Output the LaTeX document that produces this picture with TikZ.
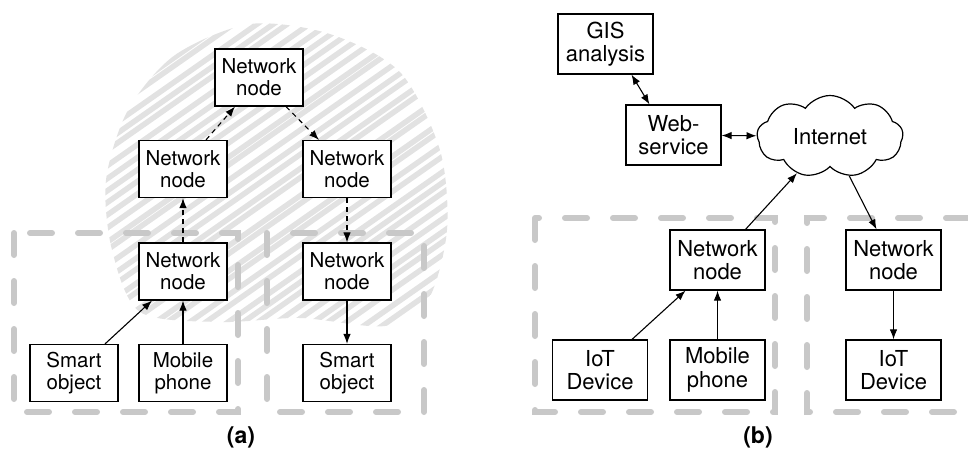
\documentclass[tikz,border=0pt]{standalone}
\usepackage{fontspec}
\setmainfont{TeX Gyre Heros}
\usetikzlibrary{arrows.meta,shapes.symbols}
\definecolor{scribble}{RGB}{226,226,226}
\definecolor{zonegray}{RGB}{200,200,200}

\begin{document}
\begin{tikzpicture}[x=1pt,y=-1pt,
  nbox/.style={draw,fill=white,line width=1.2pt,align=center,inner sep=0pt,
    minimum width=88pt,minimum height=57pt,font=\fontsize{20.5}{22}\selectfont},
  bbox/.style={nbox,minimum width=95pt,minimum height=60pt,font=\fontsize{22}{23.5}\selectfont},
  link/.style={line width=1.1pt,-{Latex[length=10pt,width=7.5pt]}},
  both/.style={line width=1.1pt,{Latex[length=10pt,width=7.5pt]}-{Latex[length=10pt,width=7.5pt]}},
  relay/.style={link,dash pattern=on 5pt off 4pt},
  zone/.style={zonegray,line width=6pt,line cap=round,dash pattern=on 22pt off 26pt},
  hatch/.style={scribble,line width=5.5pt,line cap=round},
  tag/.style={font=\fontsize{23}{26}\selectfont\bfseries}]
  \useasboundingbox (0,0) rectangle (968,459);

  % (a) shaded mesh area, loose strokes
  \pgfmathsetseed{7}
  \begin{scope}
    \clip plot[smooth cycle] coordinates {(175,55) (250,24) (330,34) (400,72) (440,150)
      (447,230) (428,300) (385,326) (300,318) (220,322) (140,312) (112,250) (106,180) (128,110)};
    \foreach \k in {-360,-342,...,460}{
      \pgfmathsetmacro\jit{rand*5}
      \draw[hatch] (\k+\jit,340) -- ++(460,-322);
    }
  \end{scope}

  % (a) local zones
  \draw[zone] (14,233) rectangle (238,412);
  \draw[zone] (267,233) rectangle (424,412);

  \node[nbox] (top) at (259,77.5) {Network\\node};
  \node[nbox] (ml) at (183,169) {Network\\node};
  \node[nbox] (mr) at (347,169) {Network\\node};
  \node[nbox] (ll) at (183,271.5) {Network\\node};
  \node[nbox] (lr) at (347,271.5) {Network\\node};
  \node[nbox] (so1) at (74,373) {Smart\\object};
  \node[nbox] (mp1) at (183,373) {Mobile\\phone};
  \node[nbox] (so2) at (347,373) {Smart\\object};

  \draw[link] ([xshift=31pt]so1.north) -- ([xshift=-31pt]ll.south);
  \draw[link] (mp1) -- (ll);
  \draw[relay] (ll) -- (ml);
  \draw[relay] ([xshift=23pt]ml.north) -- ([xshift=-24pt]top.south);
  \draw[relay] ([xshift=27pt]top.south) -- ([xshift=-28pt]mr.north);
  \draw[relay] (mr) -- (lr);
  \draw[link] (lr) -- (so2);

  \node[tag] (taga) at (241,437) {(a)};

  % (b) zones, the right one runs off the edge
  \draw[zone] (535,218) rectangle (775,412);
  \draw[zone] (968,218) -- (807,218) -- (807,412) -- (968,412);

  \node[bbox] (gis) at (605.5,44) {GIS\\analysis};
  \node[bbox] (ws) at (673.5,135) {Web-\\service};
  \node[cloud,draw,fill=white,line width=1.2pt,cloud puffs=9,cloud puff arc=110,aspect=1.8,
    inner sep=0pt,minimum width=146pt,minimum height=82pt,font=\fontsize{22}{23.5}\selectfont]
    (net) at (830,136.5) {Internet};
  \node[bbox] (nb1) at (717.5,260) {Network\\node};
  \node[bbox] (iot1) at (600,370) {IoT\\Device};
  \node[bbox] (mpb) at (717.5,370) {Mobile\\phone};
  \node[bbox] (nb2) at (893.5,260) {Network\\node};
  \node[bbox] (iot2) at (893.5,370) {IoT\\Device};

  \draw[both] ([xshift=26pt]gis.south) -- ([xshift=-24pt]ws.north);
  \draw[both] (ws) -- (net);
  \draw[link] ([xshift=28pt]nb1.north) -- (net.228);
  \draw[link] (net.296) -- ([xshift=-17pt]nb2.north);
  \draw[link] ([xshift=32pt]iot1.north) -- ([xshift=-32pt]nb1.south);
  \draw[link] (mpb) -- (nb1);
  \draw[link] (nb2) -- (iot2);

  \node[tag] (tagb) at (758,437) {(b)};
\end{tikzpicture}
\end{document}
